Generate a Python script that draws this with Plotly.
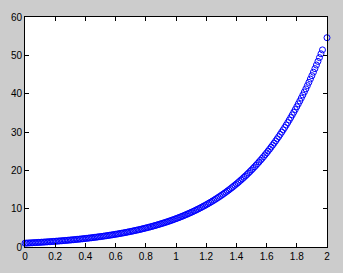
import plotly.graph_objects as go

x_vals = [round(0.01 * i, 2) for i in range(0, 198)] + [2.00]

y_vals = [
    1.000, 1.020, 1.041, 1.062, 1.083, 1.105, 1.128, 1.150, 1.174, 1.197,
    1.221, 1.246, 1.271, 1.297, 1.323, 1.350, 1.377, 1.405, 1.433, 1.462,
    1.492, 1.522, 1.553, 1.584, 1.616, 1.649, 1.682, 1.716, 1.751, 1.786,
    1.822, 1.859, 1.896, 1.935, 1.974, 2.014, 2.054, 2.096, 2.138, 2.181,
    2.226, 2.271, 2.316, 2.363, 2.411, 2.460, 2.509, 2.560, 2.612, 2.664,
    2.718, 2.773, 2.829, 2.886, 2.945, 3.004, 3.065, 3.127, 3.190, 3.254,
    3.320, 3.387, 3.456, 3.525, 3.597, 3.669, 3.743, 3.819, 3.896, 3.975,
    4.055, 4.137, 4.221, 4.306, 4.393, 4.482, 4.572, 4.665, 4.759, 4.855,
    4.953, 5.053, 5.155, 5.259, 5.366, 5.474, 5.584, 5.697, 5.812, 5.930,
    6.050, 6.172, 6.297, 6.424, 6.554, 6.686, 6.821, 6.959, 7.099, 7.243,
    7.389, 7.538, 7.691, 7.846, 8.004, 8.166, 8.331, 8.499, 8.671, 8.846,
    9.025, 9.207, 9.393, 9.583, 9.777, 9.974, 10.176, 10.381, 10.591, 10.805,
    11.023, 11.246, 11.473, 11.705, 11.941, 12.182, 12.429, 12.680, 12.936, 13.197,
    13.464, 13.736, 14.013, 14.296, 14.585, 14.880, 15.180, 15.487, 15.800, 16.119,
    16.445, 16.777, 17.116, 17.462, 17.814, 18.174, 18.541, 18.916, 19.298, 19.688,
    20.09, 20.49, 20.91, 21.33, 21.76, 22.20, 22.65, 23.10, 23.57, 24.05,
    24.53, 25.03, 25.53, 26.05, 26.58, 27.11, 27.66, 28.22, 28.79, 29.37,
    29.96, 30.57, 31.19, 31.82, 32.46, 33.12, 33.78, 34.47, 35.16, 35.87,
    36.60, 37.34, 38.09, 38.86, 39.65, 40.45, 41.26, 42.10, 42.95, 43.82,
    44.70, 45.60, 46.53, 47.47, 48.42, 49.40, 50.40, 51.42,
    54.60,
]

x_ticks = [0, 0.2, 0.4, 0.6, 0.8, 1, 1.2, 1.4, 1.6, 1.8, 2]
x_tick_text = ["0", "0.2", "0.4", "0.6", "0.8", "1", "1.2", "1.4", "1.6", "1.8", "2"]
y_ticks = [0, 10, 20, 30, 40, 50, 60]
y_tick_text = ["0", "10", "20", "30", "40", "50", "60"]

fig = go.Figure()
fig.add_trace(go.Scatter(
    x=x_vals, y=y_vals, mode="markers",
    marker=dict(symbol="circle-open", size=6, color="#0000ff", line=dict(width=1, color="#0000ff")),
    cliponaxis=False,
    showlegend=False,
))

axis_common = dict(
    showline=True, linecolor="black", linewidth=1, mirror="ticks",
    ticks="inside", ticklen=4, tickcolor="black", tickwidth=1,
    showgrid=False, zeroline=False,
    tickfont=dict(family="Liberation Sans, Arial, sans-serif", size=10, color="black"),
)

fig.update_layout(
    width=343, height=273,
    margin=dict(l=22, r=16, t=11, b=21, pad=0),
    paper_bgcolor="#cccccc", plot_bgcolor="white",
    xaxis=dict(range=[0, 2], tickvals=x_ticks, ticktext=x_tick_text, **axis_common),
    yaxis=dict(range=[0, 60], tickvals=y_ticks, ticktext=y_tick_text, **axis_common),
)

fig.write_html("out.html")
